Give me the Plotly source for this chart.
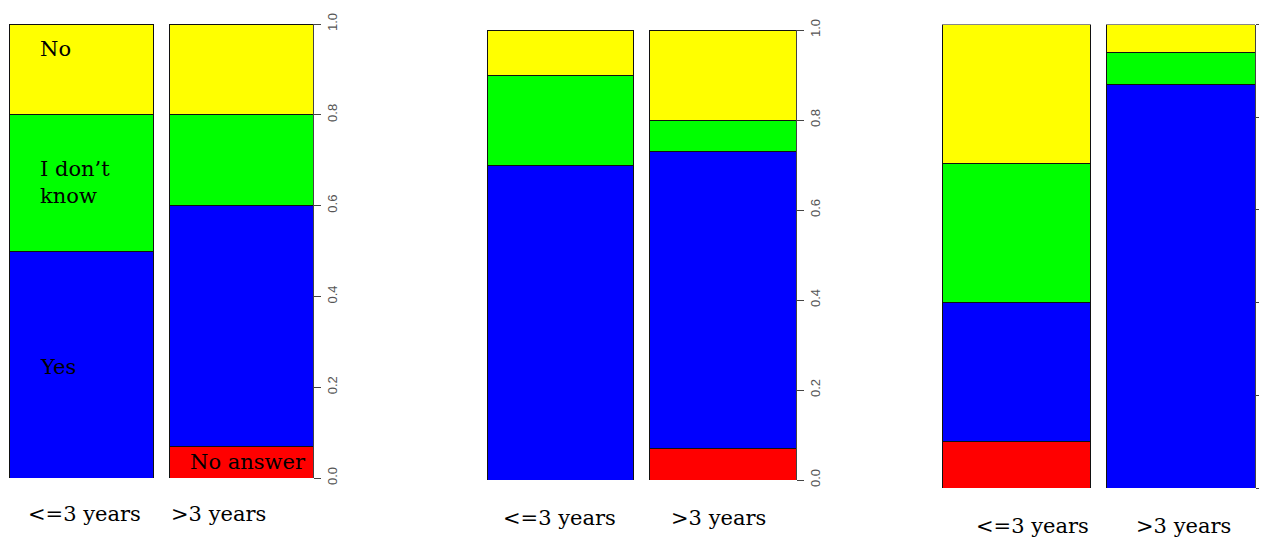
import plotly.graph_objects as go

categories = ["<=3 years", ">3 years"]
answers = ["No answer", "Yes", "I don’t know", "No"]

p1_no_answer = [0.00, 0.07]
p1_yes = [0.50, 0.53]
p1_dont_know = [0.30, 0.20]
p1_no = [0.20, 0.20]

p2_no_answer = [0.00, 0.07]
p2_yes = [0.70, 0.66]
p2_dont_know = [0.20, 0.07]
p2_no = [0.10, 0.20]

p3_no_answer = [0.10, 0.00]
p3_yes = [0.30, 0.87]
p3_dont_know = [0.30, 0.07]
p3_no = [0.30, 0.06]

y_ticks = [0.0, 0.2, 0.4, 0.6, 0.8, 1.0]

panels = [
    [p1_no_answer, p1_yes, p1_dont_know, p1_no],
    [p2_no_answer, p2_yes, p2_dont_know, p2_no],
    [p3_no_answer, p3_yes, p3_dont_know, p3_no],
]
colors = ["#FF0000", "#0000FF", "#00FF00", "#FFFF00"]

OFF = 8  # page body margin
W, H = 1267, 540
BW = 0.9
xpos = [0, 1]

# screen-pixel layouts: (x_left, x_right, y_zero_px, y_one_px)
boxes = [(9, 313, 478, 24), (487, 796, 480, 30), (942, 1255, 488, 24.5)]


def px(v):
    return (v - OFF) / W


def py(v):
    return (H - (v - OFF)) / H


fig = go.Figure()
for i, series in enumerate(panels):
    ax = "" if i == 0 else str(i + 1)
    for name, vals, col in zip(answers, series, colors):
        fig.add_trace(go.Bar(
            x=xpos, y=vals, name=name, width=BW,
            marker=dict(color=col, line=dict(color="#111111", width=1)),
            xaxis="x" + ax, yaxis="y" + ax, showlegend=False,
            hoverinfo="skip",
        ))

layout = dict(
    width=W, height=H, margin=dict(l=0, r=0, t=0, b=0, autoexpand=False),
    paper_bgcolor="white", plot_bgcolor="white",
    barmode="stack", showlegend=False,
)
for i, (xl, xr, y0, y1) in enumerate(boxes):
    ax = "" if i == 0 else str(i + 1)
    layout["xaxis" + ax] = dict(
        domain=[px(xl), px(xr)], range=[-BW / 2, 1 + BW / 2],
        visible=False, anchor="y" + ax, fixedrange=True, automargin=False,
    )
    layout["yaxis" + ax] = dict(
        domain=[py(y0), py(y1)], range=[0, 1],
        side="right", anchor="x" + ax, showline=True, linecolor="#444444",
        linewidth=1, ticks="outside", ticklen=7, tickcolor="#444444",
        tickvals=y_ticks, ticktext=[f"{v:.1f}" for v in y_ticks],
        tickangle=-90, showgrid=False, zeroline=False, automargin=False,
        tickfont=dict(family="Liberation Sans", size=13, color="#555555"),
    )
fig.update_layout(**layout)

serif = dict(family="DejaVu Serif", size=21, color="black")
# category labels below bars: (panel, category index, x shift px, y px)
label_pos = [(0, 0, 3, 514), (0, 1, -23, 514),
             (1, 0, -1, 518), (1, 1, -4, 518),
             (2, 0, 16, 526), (2, 1, 3, 526)]
for p, c, dx, ypx in label_pos:
    ax = "" if p == 0 else str(p + 1)
    fig.add_annotation(
        x=xpos[c], xref="x" + ax, y=py(ypx), yref="paper",
        text=categories[c], showarrow=False, xshift=dx,
        xanchor="center", yanchor="middle", font=serif,
    )

# answer labels inside panel 1
inner = [("No", 0, 0.945, "left"), ("I don’t know", 0, 0.65, "left"),
         ("Yes", 0, 0.245, "left"), ("No answer", 1, 0.035, "right")]
for txt, c, yv, anc in inner:
    if anc == "left":
        xv, sh = xpos[c] - BW / 2, 29
    else:
        xv, sh = xpos[c] + BW / 2, -5
    t = txt.replace("I don’t know", "I don’t<br>know")
    fig.add_annotation(
        x=xv, xref="x", y=yv, yref="y", text=t, showarrow=False,
        xanchor=anc, yanchor="middle", xshift=sh, align="left",
        font=serif,
    )

fig.write_html("out.html")
